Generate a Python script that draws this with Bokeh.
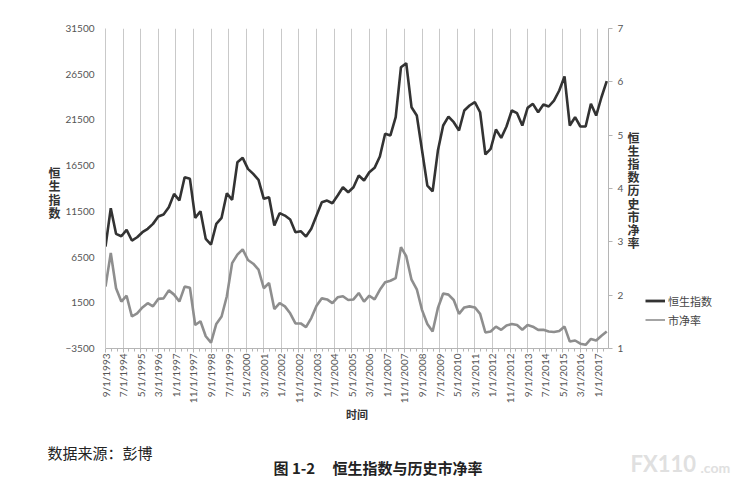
from bokeh.plotting import figure
from bokeh.layouts import column, row
from bokeh.models import LinearAxis, Range1d, FixedTicker, Label, Legend, LegendItem
from bokeh.embed import file_html
from bokeh.resources import INLINE

# ---- data (quarterly observations, Sept 1993 onward) ----
hsi = [7650, 11840, 9040, 8780, 9480, 8310, 8670, 9220, 9590, 10130,
       10930, 11150, 11950, 13410, 12680, 15230, 15060, 10790, 11510, 8490,
       7870, 10130, 10790, 13480, 12760, 16870, 17350, 16150, 15600, 14950,
       12870, 13050, 9950, 11300, 11040, 10600, 9220, 9330, 8740, 9590,
       11040, 12500, 12680, 12390, 13230, 14140, 13590, 14140, 15420,
       14870, 15780, 16260, 17500, 19980, 19800, 21800, 27270, 27700, 22890,
       21980, 18150, 14320, 13700, 18150, 20890, 21870, 21250, 20340, 22530,
       23080, 23440, 22340, 17720, 18340, 20450, 19540, 20780, 22530, 22240,
       20890, 22820, 23260, 22340, 23190, 22970, 23620, 24720, 26250, 20890,
       21800, 20780, 20780, 23260, 21980, 23980, 25740]

pb = [2.16, 2.79, 2.13, 1.88, 1.99, 1.60, 1.66, 1.77, 1.85, 1.79,
      1.93, 1.94, 2.09, 2.01, 1.88, 2.16, 2.14, 1.44, 1.51, 1.23,
      1.11, 1.46, 1.60, 1.98, 2.60, 2.76, 2.86, 2.66, 2.59, 2.48,
      2.13, 2.23, 1.74, 1.85, 1.79, 1.66, 1.47, 1.47, 1.40, 1.57,
      1.80, 1.94, 1.92, 1.85, 1.96, 1.98, 1.91, 1.92, 2.04,
      1.88, 1.99, 1.92, 2.10, 2.24, 2.27, 2.32, 2.90, 2.73, 2.29,
      2.11, 1.72, 1.46, 1.32, 1.76, 2.03, 2.01, 1.91, 1.65, 1.77,
      1.79, 1.77, 1.65, 1.30, 1.32, 1.41, 1.35, 1.43, 1.46, 1.44,
      1.35, 1.44, 1.41, 1.35, 1.35, 1.32, 1.31, 1.33, 1.41, 1.13,
      1.15, 1.09, 1.07, 1.18, 1.15, 1.24, 1.32]

# months elapsed since 9/1/1993 for each quarterly observation
months = [3 * i for i in range(len(hsi))]

tick_labels = ["9/1/1993", "7/1/1994", "5/1/1995", "3/1/1996", "1/1/1997",
               "11/1/1997", "9/1/1998", "7/1/1999", "5/1/2000", "3/1/2001",
               "1/1/2002", "11/1/2002", "9/1/2003", "7/1/2004", "5/1/2005",
               "3/1/2006", "1/1/2007", "11/1/2007", "9/1/2008", "7/1/2009",
               "5/1/2010", "3/1/2011", "1/1/2012", "11/1/2012", "9/1/2013",
               "7/1/2014", "5/1/2015", "3/1/2016", "1/1/2017"]
tick_months = [10 * k for k in range(len(tick_labels))]
minor_months = [10 * k + d for k in range(len(tick_labels)) for d in (10 / 3, 20 / 3)]

left_ticks = [-3500, 1500, 6500, 11500, 16500, 21500, 26500, 31500]
right_ticks = [1, 2, 3, 4, 5, 6, 7]

left_title = "恒生指数"
right_title = "恒生指数历史市净率"
series_names = ["恒生指数", "市净率"]

FONT_NUM = "Lato"
FONT_CJK = "Noto Sans CJK SC"

W = 735
H_MAIN = 430
H_FOOT = 48
W_LEFT = 62
W_SIDE = 109
W_PLOT = W - W_LEFT - W_SIDE

HSI_COLOR, PB_COLOR = "#333333", "#8e8e8e"
NAN = float("nan")


def blank(width, height, x0, x1, y0, y1):
    fig = figure(width=width, height=height, output_backend="svg", toolbar_location=None,
                 x_range=Range1d(x0, x1), y_range=Range1d(y1, y0),
                 x_axis_type=None, y_axis_type=None, min_border=0,
                 outline_line_color=None, background_fill_color="white",
                 border_fill_color="white")
    fig.frame_align = False
    fig.grid.visible = False
    return fig


def txt(fig, s, x, y, size, color="#333333", bold=False, align="left", font=FONT_CJK):
    fig.add_layout(Label(x=x, y=y, text=s, text_font=font, text_font_size=size,
                         text_font_style="bold" if bold else "normal",
                         text_color=color, text_align=align, text_baseline="middle"))


# ---- main chart ----
p = figure(width=W_PLOT, height=H_MAIN, output_backend="svg", toolbar_location=None,
           x_range=Range1d(0, 286), y_range=Range1d(-3500, 31500),
           min_border_left=104 - W_LEFT, min_border_right=W_LEFT + W_PLOT - 608,
           min_border_top=28, min_border_bottom=H_MAIN - 348,
           outline_line_color=None,
           background_fill_color="white", border_fill_color="white")
p.frame_align = False
p.extra_y_ranges = {"pb": Range1d(1, 7)}

xt = FixedTicker(ticks=tick_months, minor_ticks=minor_months)
p.xaxis.ticker = xt
p.xaxis.major_label_overrides = {m: s for m, s in zip(tick_months, tick_labels)}
p.xaxis.major_label_orientation = 3.14159265 / 2
p.xaxis.major_label_text_font = FONT_NUM
p.xaxis.major_label_text_font_size = "10px"
p.xaxis.major_label_text_color = "#555555"
p.xaxis.axis_line_color = "#b5b5b5"
p.xaxis.major_tick_line_color = "#b5b5b5"
p.xaxis.minor_tick_line_color = "#b5b5b5"
p.xaxis.major_tick_out = 4
p.xaxis.major_tick_in = 0
p.xaxis.minor_tick_out = 3
p.xaxis.minor_tick_in = 0
p.xaxis.major_label_standoff = 1
p.xaxis.axis_label = "时间"
p.xaxis.axis_label_text_font = FONT_CJK
p.xaxis.axis_label_text_font_size = "11px"
p.xaxis.axis_label_text_font_style = "bold"
p.xaxis.axis_label_text_color = "#333333"
p.xaxis.axis_label_standoff = 0

p.xgrid.ticker = xt
p.xgrid.grid_line_color = "#c9c9c9"
p.xgrid.grid_line_width = 1
p.ygrid.visible = False

p.yaxis.ticker = FixedTicker(ticks=left_ticks)
p.yaxis.major_label_text_font = FONT_NUM
p.yaxis.major_label_text_font_size = "10px"
p.yaxis.major_label_text_color = "#555555"
p.yaxis.axis_line_color = "#c9c9c9"
p.yaxis.major_tick_out = 0
p.yaxis.major_tick_in = 0
p.yaxis.minor_tick_line_color = None
p.yaxis.major_label_standoff = 11

ra = LinearAxis(y_range_name="pb", ticker=FixedTicker(ticks=right_ticks))
ra.major_label_text_font = FONT_NUM
ra.major_label_text_font_size = "10px"
ra.major_label_text_color = "#555555"
ra.axis_line_color = "#b5b5b5"
ra.major_tick_line_color = "#b5b5b5"
ra.major_tick_out = 4
ra.major_tick_in = 0
ra.minor_tick_line_color = None
ra.major_label_standoff = 5
p.add_layout(ra, "right")

p.line(months, hsi, line_color=HSI_COLOR, line_width=2.6)
p.line(months, pb, y_range_name="pb", line_color=PB_COLOR, line_width=2.6)

# ---- left strip: stacked axis title ----
left = blank(W_LEFT, H_MAIN, 0, W_LEFT, 0, H_MAIN)
for k, ch in enumerate(left_title):
    txt(left, ch, 54, 172 + 13.3 * k, "12px", "#333333", True, "center")

# ---- right strip: stacked axis title and legend ----
x0 = W_LEFT + W_PLOT
side = blank(W_SIDE, H_MAIN, x0, W, 0, H_MAIN)
for k, ch in enumerate(right_title):
    txt(side, ch, 633, 137 + 13.1 * k, "12px", "#333333", True, "center")

# legend keys: renderers holding a single missing value (nothing is drawn in the plot)
k1 = side.line(x=[NAN], y=[NAN], line_color=HSI_COLOR, line_width=2.8)
k2 = side.line(x=[NAN], y=[NAN], line_color=PB_COLOR, line_width=1.6)
legend = Legend(items=[LegendItem(label=series_names[0], renderers=[k1]),
                       LegendItem(label=series_names[1], renderers=[k2])],
                location=(645 - x0, H_MAIN - 329), orientation="vertical",
                border_line_color=None, background_fill_alpha=0,
                padding=0, margin=0, spacing=0,
                glyph_width=20, glyph_height=19, label_height=19,
                label_standoff=3, label_text_font=FONT_CJK,
                label_text_font_size="11px", label_text_color="#444444")
side.add_layout(legend, "center")

# ---- footer (source note, caption, watermark) ----
foot = blank(W, H_FOOT, 0, W, H_MAIN, H_MAIN + H_FOOT)
txt(foot, "数据来源：彭博", 47, 452, "15px", "#222222")
txt(foot, "图 1-2", 273, 467, "15px", "#222222", True)
txt(foot, "恒生指数与历史市净率", 332, 467, "15px", "#222222", True)
txt(foot, "FX110", 630, 463, "22px", "#e0e0e0", True, "left", "Lato")
txt(foot, ".com", 700, 467, "14px", "#e0e0e0", True, "left", "Lato")

layout = column(row(left, p, side), foot)
open("out.html", "w").write(file_html(layout, INLINE))
